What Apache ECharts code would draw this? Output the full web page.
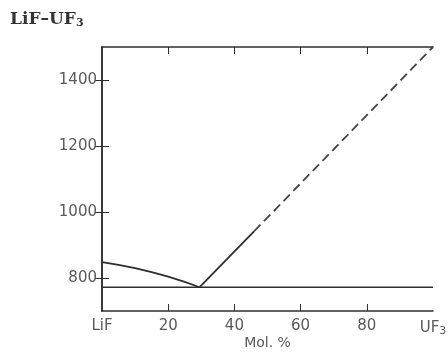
<!DOCTYPE html>
<html>
<head>
<meta charset="utf-8">
<script src="https://cdn.jsdelivr.net/npm/echarts@6/dist/echarts.min.js"></script>
<style>html,body{margin:0;padding:0;background:#fff}#c{width:448px;height:352px}</style>
</head>
<body>
<div id="c"></div>
<script>
// Data
var xTickValues = [0, 20, 40, 60, 80, 100];
var xTickMarks = [20, 40, 60, 80];
var yTickValues = [800, 1000, 1200, 1400];
var liquidusLiF_x = [0, 5, 10, 15, 20, 25, 29.5];
var liquidusLiF_y = [848, 840, 830, 818, 804, 788, 772];
var liquidusUF3Solid_x = [29.5, 46];
var liquidusUF3Solid_y = [772, 942];
var liquidusUF3Dashed_x = [46, 100];
var liquidusUF3Dashed_y = [942, 1500];
var eutectic_x = [0, 100];
var eutectic_y = [772, 772];

function pairs(xs, ys) { return xs.map(function (x, i) { return [x, ys[i]]; }); }

var lineCol = '#2e2e2e';
var labCol = '#5a5a5a';

var chart = echarts.init(document.getElementById('c'), null, { renderer: 'canvas' });
var baseLine = { type: 'line', showSymbol: false, symbol: 'none', animation: false, silent: true };

chart.setOption({
  backgroundColor: '#fff',
  animation: false,
  title: {
    text: 'LiF\u2013UF{s|3}',
    left: 5, top: 6,
    textStyle: {
      fontFamily: 'DejaVu Serif', fontWeight: 'bold', fontSize: 17, color: '#333',
      rich: { s: { fontFamily: 'DejaVu Serif', fontWeight: 'bold', fontSize: 11, color: '#333', padding: [7, 0, 0, 0] } }
    }
  },
  grid: { left: 102, right: 15, top: 47, bottom: 41, containLabel: false, outerBoundsMode: 'none' },
  xAxis: [{
    type: 'value', min: 0, max: 100, position: 'bottom',
    name: 'Mol. %', nameLocation: 'middle', nameGap: 25, nameMoveOverlap: false,
    nameTextStyle: { fontFamily: 'DejaVu Sans', fontSize: 14, color: labCol },
    axisLine: { show: true, lineStyle: { color: lineCol, width: 1.5 } },
    axisTick: { show: true, inside: true, length: 7, customValues: xTickMarks, lineStyle: { color: lineCol, width: 1 } },
    axisLabel: {
      customValues: xTickValues, margin: 8,
      fontFamily: 'DejaVu Sans', fontSize: 15, color: labCol,
      formatter: function (v) { return v === 0 ? 'LiF' : (v === 100 ? 'UF{s|3}' : String(v)); },
      rich: { s: { fontFamily: 'DejaVu Sans', fontSize: 11, color: labCol, padding: [7, 0, 0, 0] } }
    },
    splitLine: { show: false }
  }, {
    type: 'value', min: 0, max: 100, position: 'top',
    axisLine: { show: true, lineStyle: { color: lineCol, width: 1.5 } },
    axisTick: { show: true, inside: true, length: 7, customValues: xTickMarks, lineStyle: { color: lineCol, width: 1 } },
    axisLabel: { show: false },
    splitLine: { show: false }
  }],
  yAxis: [{
    type: 'value', min: 700, max: 1500, position: 'left',
    axisLine: { show: true, lineStyle: { color: lineCol, width: 1.5 } },
    axisTick: { show: true, inside: true, length: 7, customValues: yTickValues, lineStyle: { color: lineCol, width: 1 } },
    axisLabel: { customValues: yTickValues, margin: 5, fontFamily: 'DejaVu Sans', fontSize: 15, color: labCol,
      formatter: function (v) { return String(v); } },
    splitLine: { show: false }
  }, {
    type: 'value', min: 700, max: 1500, position: 'right',
    axisLine: { show: true, lineStyle: { color: lineCol, width: 1.5 } },
    axisTick: { show: true, inside: true, length: 7, customValues: yTickValues, lineStyle: { color: lineCol, width: 1 } },
    axisLabel: { show: false },
    splitLine: { show: false }
  }],
  series: [
    Object.assign({}, baseLine, { data: pairs(eutectic_x, eutectic_y), lineStyle: { color: lineCol, width: 1.6 } }),
    Object.assign({}, baseLine, { data: pairs(liquidusLiF_x, liquidusLiF_y), lineStyle: { color: lineCol, width: 1.8 } }),
    Object.assign({}, baseLine, { data: pairs(liquidusUF3Solid_x, liquidusUF3Solid_y), lineStyle: { color: lineCol, width: 1.8 } }),
    Object.assign({}, baseLine, { data: pairs(liquidusUF3Dashed_x, liquidusUF3Dashed_y), lineStyle: { color: '#444', width: 1.8, type: [9, 5] } })
  ]
});
</script>
</body>
</html>
